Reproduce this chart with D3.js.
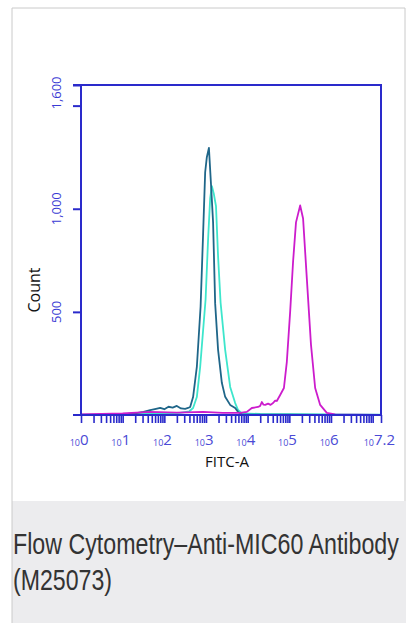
<!DOCTYPE html>
<html>
<head>
<meta charset="utf-8">
<script src="https://cdn.jsdelivr.net/npm/d3@7"></script>
<style>
body { margin: 0; background: #fff; }
.frame { fill: none; stroke: #2a2acb; stroke-width: 2; }
.tick line { stroke: #2a2acb; }
.ylab { fill: #3a3ad4; font: 13px "Open Sans", sans-serif; }
.xlab { fill: #4a4ad6; font-family: "Open Sans", sans-serif; }
.title { fill: #111; font: 15px "Open Sans", sans-serif; }
.caption { fill: #333; font: 29px "Liberation Sans Narrow", "Liberation Sans", sans-serif; }
.curve { fill: none; stroke-width: 1.8; stroke-linejoin: round; }
</style>
</head>
<body>
<svg id="chart" width="413" height="630"></svg>
<script>

// x values are log10(FITC-A), y values are counts
var darkX  = [0, 0.9, 1.3, 1.5, 1.66, 1.8, 1.9, 2.0, 2.1, 2.2, 2.3, 2.4, 2.5, 2.57, 2.62, 2.69, 2.78, 2.87, 2.93, 2.98, 3.02, 3.07, 3.12, 3.17, 3.22, 3.29, 3.38, 3.46, 3.58, 3.70, 3.77, 3.86, 4.2, 5.0, 6.0, 7.2];
var darkY  = [2, 3, 8, 15, 24, 30, 34, 28, 40, 36, 44, 32, 30, 34, 39, 87, 233, 525, 875, 1177, 1250, 1295, 1119, 934, 540, 316, 156, 88, 49, 34, 15, 3, 2, 2, 1, 0];

var cyanX  = [0, 1.0, 1.5, 2.0, 2.38, 2.6, 2.69, 2.78, 2.86, 2.99, 3.05, 3.10, 3.14, 3.19, 3.24, 3.29, 3.35, 3.46, 3.58, 3.70, 3.77, 3.86, 4.3, 5.0, 6.0, 7.2];
var cyanY  = [0, 2, 5, 8, 10, 18, 34, 87, 233, 560, 851, 1050, 1110, 1070, 1012, 768, 545, 316, 136, 58, 24, 8, 5, 4, 3, 2];

var magX   = [0, 1.0, 1.66, 2.3, 2.93, 3.4, 3.82, 3.98, 4.10, 4.25, 4.30, 4.34, 4.38, 4.42, 4.49, 4.55, 4.61, 4.66, 4.70, 4.78, 4.87, 4.94, 5.02, 5.09, 5.16, 5.21, 5.26, 5.33, 5.42, 5.52, 5.62, 5.74, 5.90, 6.10, 6.6, 7.2];
var magY   = [3, 8, 15, 12, 15, 10, 10, 15, 34, 39, 44, 63, 50, 49, 55, 49, 58, 70, 68, 97, 131, 258, 501, 744, 934, 975, 1016, 953, 661, 340, 131, 49, 10, 3, 2, 0];

var decadeTicks = [0, 1, 2, 3, 4, 5, 6, 7.2];
var yTicks  = [500, 1000, 1500, 1600];
var yLabels = ["500", "1,000", "", "1,600"];

var svg = d3.select("#chart");

// card
svg.append("rect").attr("x", 12).attr("y", 8).attr("width", 393).attr("height", 615)
  .attr("fill", "#fff");
svg.append("rect").attr("x", 12).attr("y", 501).attr("width", 394).attr("height", 122)
  .attr("fill", "#ececee");
svg.append("path")
  .attr("d", "M12,623 L12,8 L405,8 L405,501")
  .attr("fill", "none").attr("stroke", "#cacaca").attr("stroke-width", 1);

var pl = 81, pr = 381, pt = 85, pb = 415;

var x = d3.scaleLog().domain([1, Math.pow(10, 7.2)]).range([pl, pr]);
var y = d3.scaleLinear().domain([0, 1600]).range([pb, pt]);

// x axis with log minor ticks
var minor = x.ticks().filter(function(v){ return v >= 1 && v <= Math.pow(10, 7.2); });
minor.push(Math.pow(10, 7.2));

var xAxis = svg.append("g")
  .attr("transform", "translate(0," + pb + ")")
  .call(d3.axisBottom(x).tickValues(minor).tickSize(8).tickFormat(""));
xAxis.select(".domain").remove();
xAxis.selectAll(".tick line").attr("stroke-width", 1.6);

var yAxis = svg.append("g")
  .attr("transform", "translate(" + pl + ",0)")
  .call(d3.axisLeft(y).tickValues(yTicks).tickSize(8).tickFormat(""));
yAxis.select(".domain").remove();
yAxis.selectAll(".tick line").attr("stroke-width", 2);

// histograms
var line = d3.line()
  .x(function(d){ return x(Math.pow(10, d[0])); })
  .y(function(d){ return y(d[1]); });

function draw(xs, ys, color) {
  svg.append("path").attr("class", "curve")
    .attr("stroke", color)
    .attr("d", line(d3.zip(xs, ys)));
}
draw(cyanX, cyanY, "#3ee6cc");
draw(darkX, darkY, "#1f6689");
draw(magX, magY, "#cc1ccc");

// frame
svg.append("path").attr("class", "frame")
  .attr("d", "M73," + pt + " L" + pr + "," + pt + " L" + pr + "," + pb +
             " L73," + pb + " M" + pl + "," + pt + " L" + pl + "," + pb);

// x tick labels: small "10" + big exponent
decadeTicks.forEach(function(d){
  var px = x(Math.pow(10, d)) - (d === 7.2 ? 6 : 0);
  svg.append("text").attr("class", "xlab")
    .attr("x", px - 1).attr("y", 446)
    .attr("text-anchor", "end")
    .style("font-size", "9px")
    .text("10");
  svg.append("text").attr("class", "xlab")
    .attr("x", px - 1).attr("y", 445)
    .style("font-size", "15px")
    .text(d);
});

// y tick labels, rotated
yTicks.forEach(function(v, i){
  if (!yLabels[i]) return;
  var py = y(v) + (v === 1600 ? 8 : 0);
  svg.append("text").attr("class", "ylab")
    .attr("transform", "translate(61," + py + ") rotate(-90)")
    .attr("text-anchor", "middle")
    .text(yLabels[i]);
});

svg.append("text").attr("class", "title")
  .attr("transform", "translate(40,290) rotate(-90)")
  .attr("text-anchor", "middle")
  .style("font-size", "16px")
  .text("Count");

svg.append("text").attr("class", "title")
  .attr("x", 227).attr("y", 467)
  .attr("text-anchor", "middle")
  .text("FITC-A");

// caption, squeezed horizontally to look condensed
function caption(txt, cy, w) {
  var t = svg.append("text").attr("class", "caption").text(txt);
  var len = t.node().getComputedTextLength();
  t.attr("transform", "translate(13," + cy + ") scale(" + (w / len) + ",1)");
}
caption("Flow Cytometry\u2013Anti-MIC60 Antibody", 554, 386);
caption("(M25073)", 590, 99);

</script>
</body>
</html>
